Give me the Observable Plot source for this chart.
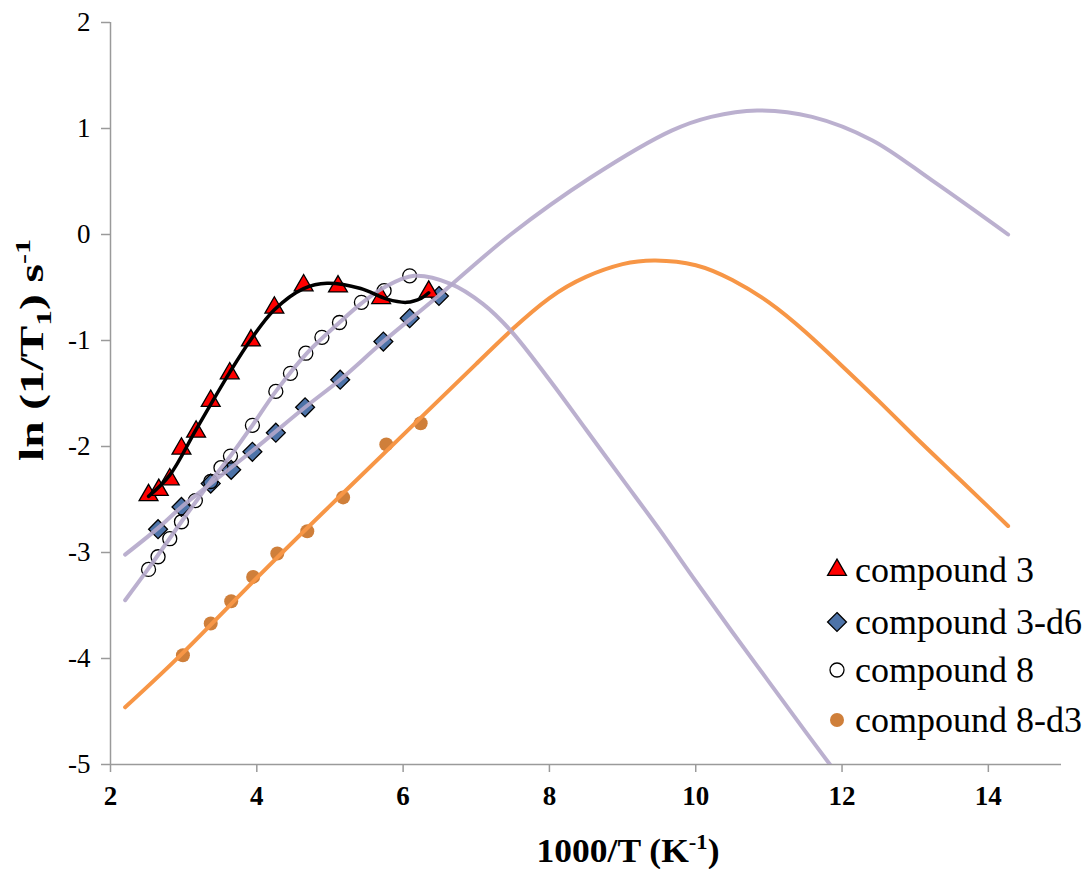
<!DOCTYPE html>
<html><head><meta charset="utf-8">
<script src="https://cdn.jsdelivr.net/npm/d3@7"></script>
<script src="https://cdn.jsdelivr.net/npm/@observablehq/plot@0.6"></script>
<style>
body{margin:0;background:#fff;}
#wrap{position:relative;width:1091px;height:869px;}
</style></head><body><div id="wrap"></div>
<script>
// ---- tick values ----
const xTicks = [2, 4, 6, 8, 10, 12, 14];
const yTicks = [-5, -4, -3, -2, -1, 0, 1, 2];

// ---- series names ----
const seriesNames = ["compound 3", "compound 3-d6", "compound 8", "compound 8-d3"];

// ---- compound 3 (red triangles) ----
const c3X = [2.52, 2.66, 2.81, 2.97, 3.17, 3.37, 3.63, 3.92, 4.24, 4.64, 5.11, 5.70, 6.35];
const c3Y = [-2.46, -2.41, -2.31, -2.02, -1.86, -1.57, -1.31, -1.00, -0.69, -0.48, -0.49, -0.60, -0.54];
const fit3X = [2.52, 2.81, 3.17, 3.63, 3.92, 4.24, 4.64, 4.96, 5.42, 5.78, 6.05, 6.25, 6.35];
const fit3Y = [-2.47, -2.27, -1.84, -1.30, -0.99, -0.71, -0.51, -0.46, -0.51, -0.61, -0.64, -0.60, -0.55];

// ---- compound 3-d6 (blue diamonds) ----
const c3d6X = [2.65, 2.97, 3.37, 3.65, 3.94, 4.26, 4.66, 5.14, 5.73, 6.09, 6.49];
const c3d6Y = [-2.78, -2.57, -2.35, -2.22, -2.05, -1.87, -1.63, -1.37, -1.01, -0.79, -0.58];
const fit3d6X = [2.2, 2.65, 2.97, 3.37, 3.94, 4.66, 5.14, 5.73, 6.49, 7.47, 8.57, 9.67, 10.21, 10.84, 11.59, 12.41, 13.23, 14.27];
const fit3d6Y = [-3.02, -2.77, -2.57, -2.35, -2.04, -1.63, -1.37, -1.01, -0.575, 0.0, 0.54, 0.98, 1.11, 1.17, 1.11, 0.89, 0.51, 0.0];

// ---- compound 8 (open circles) ----
const c8X = [2.52, 2.65, 2.81, 2.97, 3.16, 3.37, 3.51, 3.64, 3.94, 4.26, 4.46, 4.67, 4.89, 5.13, 5.43, 5.74, 6.09];
const c8Y = [-3.16, -3.04, -2.87, -2.71, -2.51, -2.33, -2.20, -2.09, -1.80, -1.48, -1.31, -1.12, -0.97, -0.83, -0.64, -0.53, -0.39];
const fit8X = [2.2, 2.52, 2.97, 3.37, 3.64, 3.94, 4.26, 4.67, 5.13, 5.43, 5.74, 6.15, 6.65, 7.09, 7.47, 8.0, 8.5, 9.0, 9.5, 10.0, 10.5, 11.0, 11.5, 11.9];
const fit8Y = [-3.45, -3.15, -2.71, -2.33, -2.09, -1.80, -1.48, -1.13, -0.83, -0.65, -0.50, -0.39, -0.465, -0.654, -0.906, -1.37, -1.84, -2.31, -2.78, -3.27, -3.75, -4.22, -4.69, -5.06];

// ---- compound 8-d3 (orange dots) ----
const c8d3X = [2.99, 3.37, 3.65, 3.95, 4.28, 4.69, 5.18, 5.77, 6.24];
const c8d3Y = [-3.97, -3.67, -3.46, -3.23, -3.01, -2.80, -2.48, -1.98, -1.78];
const fit8d3X = [2.2, 3.0, 4.0, 5.0, 6.0, 7.0, 7.5, 8.0, 8.5, 9.0, 9.45, 10.0, 10.5, 11.0, 11.5, 12.0, 12.5, 13.0, 13.5, 14.0, 14.27];
const fit8d3Y = [-4.46, -3.94, -3.24, -2.56, -1.89, -1.22, -0.89, -0.60, -0.40, -0.28, -0.245, -0.29, -0.43, -0.64, -0.92, -1.24, -1.57, -1.91, -2.24, -2.57, -2.75];

const zip = (xs, ys) => xs.map((x, i) => ({x, y: ys[i]}));

const RED = "#ff0000", BLUE = "#4d73a8", PURPLE = "#b4a7ca", ORANGE = "#f79646", ODOT = "#cf7f3a", AXIS = "#9a9a9a";
const FONT = "'Liberation Serif', 'Times New Roman', 'DejaVu Serif', serif";

const plot = Plot.plot({
  width: 1091, height: 869,
  marginLeft: 110, marginRight: 30, marginTop: 22, marginBottom: 105,
  x: {domain: [2, 15], label: null},
  y: {domain: [-5, 2], label: null},
  style: {fontFamily: FONT, background: "#fff", color: "#000"},
  marks: [
    Plot.axisX({ticks: xTicks, tickSize: 8, tickPadding: 13, fontSize: 27, fontWeight: "bold", label: null, tickFormat: d => String(d)}),
    Plot.axisY({ticks: yTicks, tickSize: 9, tickPadding: 11, fontSize: 27, label: null, tickFormat: d => String(d)}),
    Plot.ruleY([-5], {stroke: AXIS, strokeWidth: 1.5}),
    Plot.ruleX([2], {stroke: AXIS, strokeWidth: 1.5}),
    // markers
    Plot.dot(zip(c8d3X, c8d3Y), {x: "x", y: "y", r: 7, fill: ODOT, stroke: "none"}),
    Plot.dot(zip(c3d6X, c3d6Y), {x: "x", y: "y", symbol: "diamond2", r: 8.5, fill: BLUE, stroke: "#000", strokeWidth: 1.3}),
    Plot.dot(zip(c8X, c8Y), {x: "x", y: "y", r: 7, fill: "none", stroke: "#000", strokeWidth: 1.3}),
    Plot.dot(zip(c3X, c3Y), {x: "x", y: "y", symbol: "triangle", r: 7, fill: RED, stroke: "#000", strokeWidth: 1.3}),
    // fitted lines (drawn over markers)
    Plot.line(zip(fit8d3X, fit8d3Y), {x: "x", y: "y", stroke: ORANGE, strokeWidth: 4, curve: "natural"}),
    Plot.line(zip(fit3d6X, fit3d6Y), {x: "x", y: "y", stroke: PURPLE, strokeWidth: 4, strokeOpacity: 0.9, curve: "catmull-rom"}),
    Plot.line(zip(fit8X, fit8Y), {x: "x", y: "y", stroke: PURPLE, strokeWidth: 4, strokeOpacity: 0.9, curve: "catmull-rom", clip: true}),
    Plot.line(zip(fit3X, fit3Y), {x: "x", y: "y", stroke: "#000", strokeWidth: 3.5, curve: "catmull-rom"})
  ]
});

const svg = d3.select(plot);
// axis tick colours
svg.selectAll("g[aria-label='x-axis tick'] path, g[aria-label='y-axis tick'] path").attr("stroke", AXIS).attr("stroke-width", 1.5);
svg.selectAll("g[aria-label='x-axis tick label'], g[aria-label='y-axis tick label']").attr("fill", "#000");

// axis titles with sub/superscripts
const xt = svg.append("text").attr("x", 628).attr("y", 862).attr("text-anchor", "middle")
  .attr("font-family", FONT).attr("font-weight", "bold").attr("font-size", 33).attr("fill", "#000")
  .attr("textLength", 183).attr("lengthAdjust", "spacingAndGlyphs");
xt.append("tspan").text("1000/T (K");
xt.append("tspan").attr("dy", -13).attr("font-size", 21).text("-1");
xt.append("tspan").attr("dy", 13).text(")");

const yt = svg.append("text").attr("transform", "translate(43,350) rotate(-90)").attr("text-anchor", "middle")
  .attr("font-family", FONT).attr("font-weight", "bold").attr("font-size", 33).attr("fill", "#000")
  .attr("textLength", 222).attr("lengthAdjust", "spacingAndGlyphs");
yt.append("tspan").text("ln (1/T");
yt.append("tspan").attr("dy", 8).attr("font-size", 22).text("1");
yt.append("tspan").attr("dy", -8).text(") s");
yt.append("tspan").attr("dy", -13).attr("font-size", 21).text("-1");

// legend
const leg = svg.append("g").attr("text-anchor", "start");
const rows = [570, 622, 670, 720];
const legSym = [
  g => g.append("path").attr("d", d3.symbol(d3.symbolTriangle, Math.PI * 7 * 7)()).attr("fill", RED).attr("stroke", "#000").attr("stroke-width", 1.3),
  g => g.append("path").attr("d", d3.symbol(d3.symbolDiamond2, Math.PI * 8.5 * 8.5)()).attr("fill", BLUE).attr("stroke", "#000").attr("stroke-width", 1.3),
  g => g.append("circle").attr("r", 7).attr("fill", "none").attr("stroke", "#000").attr("stroke-width", 1.3),
  g => g.append("circle").attr("r", 7).attr("fill", ODOT)
];
seriesNames.forEach((name, i) => {
  const g = leg.append("g").attr("transform", `translate(837,${rows[i]})`);
  legSym[i](g);
  leg.append("text").attr("x", 855).attr("y", rows[i] + 12).attr("text-anchor", "start")
    .attr("font-family", FONT).attr("font-size", 36).attr("fill", "#000").text(name);
});

document.getElementById("wrap").appendChild(plot);
</script>
</body></html>
